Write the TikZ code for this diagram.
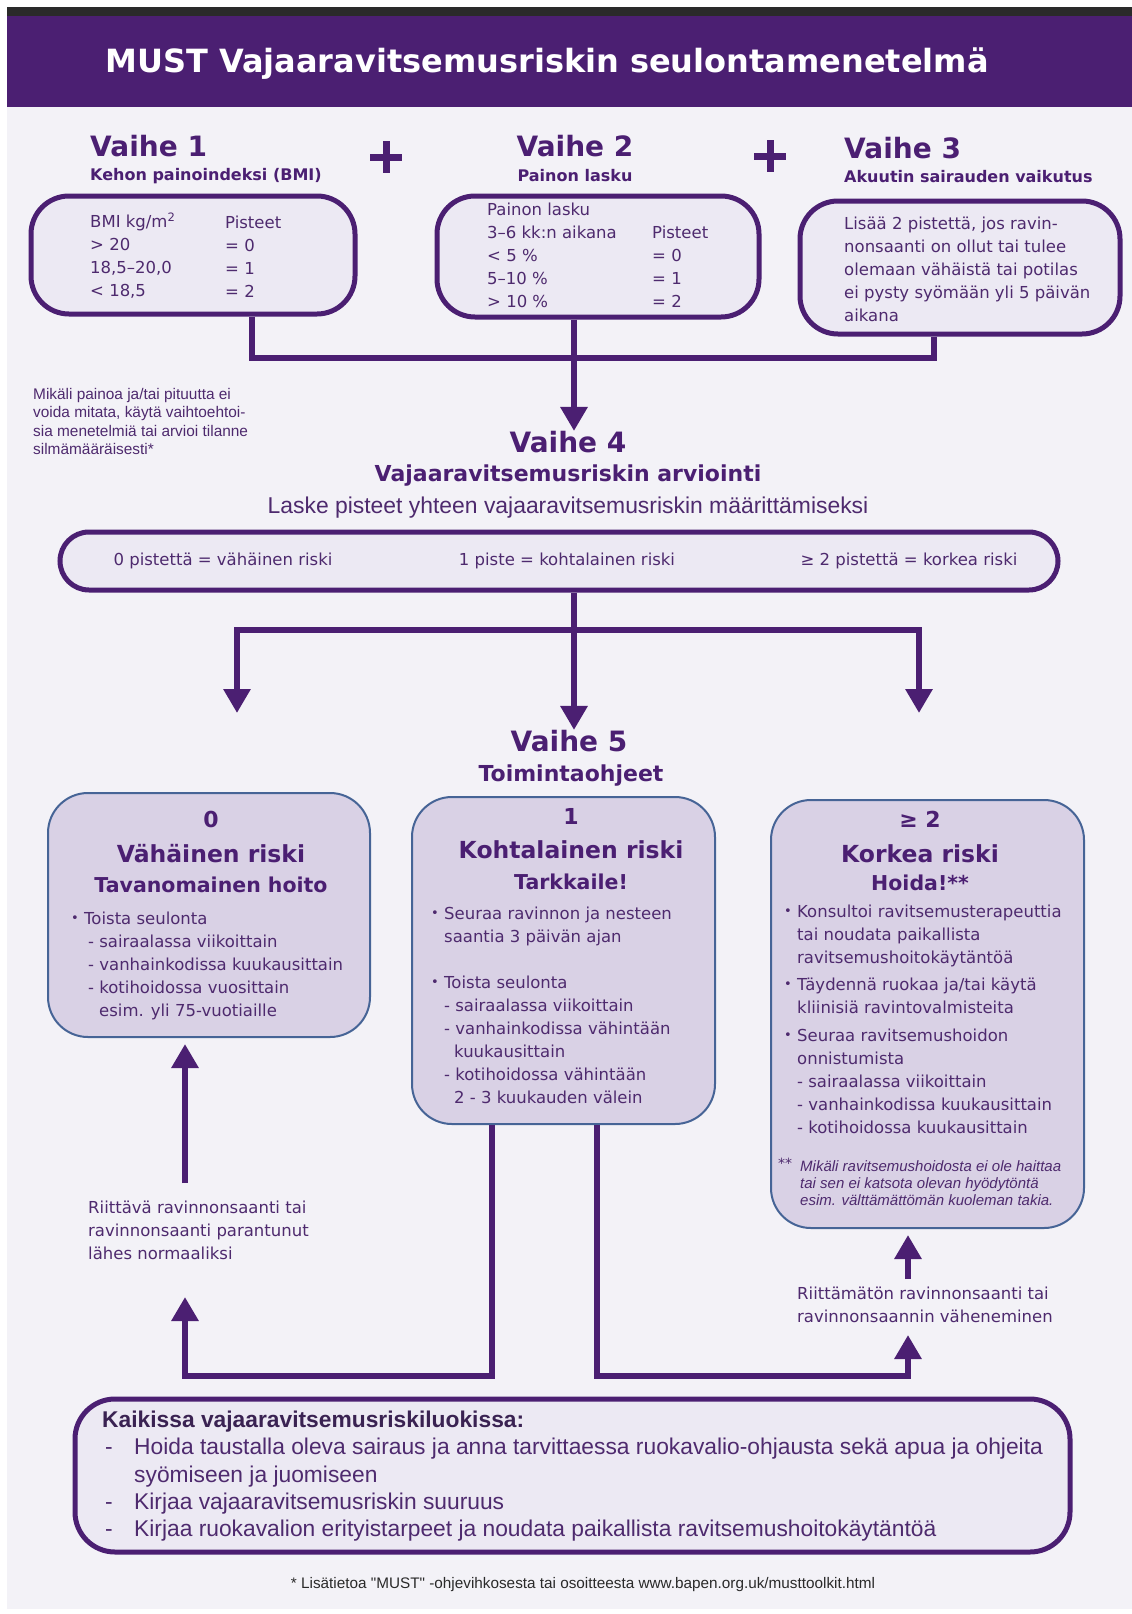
\documentclass[tikz,border=0pt]{standalone}
\usepackage{fontspec}
\setmainfont{DejaVu Sans}
\newfontfamily\arialfont{Liberation Sans}
\usetikzlibrary{arrows.meta, positioning, calc}
\definecolor{mustpurple}{RGB}{75,31,114}
\definecolor{musttext}{RGB}{78,42,110}
\definecolor{mustdark}{RGB}{58,34,82}
\definecolor{mustbg}{RGB}{243,242,247}
\definecolor{mustfill}{RGB}{236,233,243}
\definecolor{riskfill}{RGB}{217,209,229}
\definecolor{riskedge}{RGB}{70,100,150}
\definecolor{bardark}{RGB}{42,42,42}
\newcommand{\fs}[2]{\fontsize{#1}{#2}\selectfont}
\newcommand{\bul}{\makebox[13pt][l]{\raisebox{2pt}{\fs{13}{13}•}}}

\begin{document}
\begin{tikzpicture}[x=1pt, y=-1pt,
    card/.style={draw=mustpurple, line width=5pt, fill=mustfill,
                 rounded corners=#1, inner sep=0pt},
    card/.default=38pt,
    action/.style={draw=riskedge, line width=2pt, fill=riskfill,
                   rounded corners=40pt, inner sep=0pt},
    stage/.style={font=\fs{28}{30}\bfseries, text=mustpurple, inner sep=0pt},
    stagesub/.style={font=\fs{16}{18}\bfseries, text=mustpurple, inner sep=0pt},
    body/.style={font=\fs{16.5}{23}, text=musttext, align=left, inner sep=0pt},
    cue/.style={body},
    note/.style={font=\arialfont\fs{15.4}{18.3}, text=musttext, align=left, inner sep=0pt},
    riskno/.style={font=\fs{22}{24}\bfseries, text=mustpurple, inner sep=0pt},
    riskname/.style={font=\fs{23.5}{26}\bfseries, text=mustpurple, inner sep=0pt},
    riskcare/.style={font=\fs{20.5}{23}\bfseries, text=mustpurple, inner sep=0pt},
    link/.style={draw=mustpurple, line width=6pt},
    flow/.style={link, -{Triangle[width=26pt,length=24pt]}}
  ]
    \useasboundingbox (0,0) rectangle (1132,1614);
    \fill[white] (0,0) rectangle (1132,1614);
    \fill[mustbg] (7,15) rectangle (1132,1609);
    \fill[bardark] (7,7) rectangle (1132,16);
    \fill[mustpurple] (7,16) rectangle (1132,107);
    \node[font=\fs{32}{36}\bfseries, text=white] (title) at (547,64) {MUST Vajaaravitsemusriskin seulontamenetelmä};

    % vaiheet 1-3
    \node[stage, anchor=west] (v1) at (90,146) {Vaihe 1};
    \node[stagesub, anchor=west] (v1s) at (90,176) {Kehon painoindeksi (BMI)};
    \node[stage] (v2) at (575,146) {Vaihe 2};
    \node[stagesub] (v2s) at (575,176) {Painon lasku};
    \node[stage, anchor=west] (v3) at (844,148) {Vaihe 3};
    \node[stagesub, anchor=west] (v3s) at (844,177) {Akuutin sairauden vaikutus};
    \foreach \px/\py in {386/157, 770/156}
      \draw[mustpurple, line width=7pt] (\px-16,\py) -- (\px+16,\py) (\px,\py-16) -- (\px,\py+16);

    \node[card, minimum width=324pt, minimum height=118pt] (bmi) at (193,255) {};
    \node[card, minimum width=322pt, minimum height=121pt] (loss) at (598,256.5) {};
    \node[card, minimum width=320pt, minimum height=133pt] (acute) at (960,267.5) {};

    \node[body, anchor=west] (bmicol) at (90,256) {BMI kg/m\textsuperscript{2}\\> 20\\18,5–20,0\\< 18,5};
    \node[body, anchor=west] (bmipts) at (225,257) {Pisteet\\= 0\\= 1\\= 2};
    \node[body, anchor=west] (losscol) at (487,255) {Painon lasku\\3–6 kk:n aikana\\< 5 \%\\5–10 \%\\> 10 \%};
    \node[body, anchor=west] (losspts) at (652,267) {Pisteet\\= 0\\= 1\\= 2};
    \node[body, anchor=west] (acutetxt) at (844,269) {Lisää 2 pistettä, jos ravin-\\nonsaanti on ollut tai tulee\\olemaan vähäistä tai potilas\\ei pysty syömään yli 5 päivän\\aikana};

    \coordinate (c1) at (252,358);
    \coordinate (c2) at (574,358);
    \coordinate (c3) at (934,358);
    \draw[link] (bmi.south -| c1) -- (c1) -- (c3) -- (acute.south -| c3);

    \node[note, anchor=west] (nomeasure) at (33,421.5) {Mikäli painoa ja/tai pituutta ei\\voida mitata, käytä vaihtoehtoi-\\sia menetelmiä tai arvioi tilanne\\silmämääräisesti*};

    % vaihe 4
    \node[stage] (v4) at (568,442) {Vaihe 4};
    \draw[flow] (loss.south -| c2) -- (c2 |- v4.north);
    \node[font=\fs{22}{24}\bfseries, text=mustpurple] (v4s) at (568,476) {Vajaaravitsemusriskin arviointi};
    \node[font=\arialfont\fs{22.9}{26}, text=musttext] (v4t) at (568,508) {Laske pisteet yhteen vajaaravitsemusriskin määrittämiseksi};

    \node[card=29pt, minimum width=998pt, minimum height=58pt] (score) at (559,561) {};
    \node[body] (s0) at (223,561) {0 pistettä = vähäinen riski};
    \node[body] (s1) at (567,561) {1 piste = kohtalainen riski};
    \node[body] (s2) at (909,561) {≥ 2 pistettä = korkea riski};

    \coordinate (sp) at (574,630);
    \coordinate (tipl) at (237,713);
    \coordinate (tipr) at (919,713);

    % vaihe 5
    \node[stage] (v5) at (569,741) {Vaihe 5};
    \node[font=\fs{22}{24}\bfseries, text=mustpurple] (v5s) at (571,776) {Toimintaohjeet};
    \draw[link] (score.south -| sp) -- (sp);
    \draw[flow] (sp) -- (sp |- v5.north);
    \draw[flow] (sp) -| (tipl);
    \draw[flow] (sp) -| (tipr);

    \node[action, minimum width=322pt, minimum height=244pt] (low) at (209,915) {};
    \node[action, minimum width=303pt, minimum height=327pt] (medium) at (563.5,960.5) {};
    \node[action, minimum width=313pt, minimum height=428pt] (high) at (927.5,1014) {};

    \node[riskno] (lown) at (211,819) {0};
    \node[riskname] (lowr) at (211,854) {Vähäinen riski};
    \node[riskcare] (lowc) at (211,885) {Tavanomainen hoito};
    \node[body, anchor=north west] (lowlist) at (71,912) {\bul Toista seulonta\\\hspace*{17pt}- sairaalassa viikoittain\\\hspace*{17pt}- vanhainkodissa kuukausittain\\\hspace*{17pt}- kotihoidossa vuosittain\\\hspace*{28pt}esim. yli 75-vuotiaille};

    \node[riskno] (medn) at (571,816) {1};
    \node[riskname] (medr) at (571,850) {Kohtalainen riski};
    \node[riskcare] (medc) at (571,882) {Tarkkaile!};
    \node[body, anchor=north west] (medlist) at (431,907) {\bul Seuraa ravinnon ja nesteen\\\hspace*{13pt}saantia 3 päivän ajan\\[23pt]\bul Toista seulonta\\\hspace*{13pt}- sairaalassa viikoittain\\\hspace*{13pt}- vanhainkodissa vähintään\\\hspace*{23pt}kuukausittain\\\hspace*{13pt}- kotihoidossa vähintään\\\hspace*{23pt}2 - 3 kuukauden välein};

    \node[riskno] (highn) at (920,819) {≥ 2};
    \node[riskname] (highr) at (920,854) {Korkea riski};
    \node[riskcare] (highc) at (920,883) {Hoida!**};
    \node[body, anchor=north west] (higha) at (784,905) {\bul Konsultoi ravitsemusterapeuttia\\\hspace*{13pt}tai noudata paikallista\\\hspace*{13pt}ravitsemushoitokäytäntöä};
    \node[body, anchor=north west] (highb) at (784,978) {\bul Täydennä ruokaa ja/tai käytä\\\hspace*{13pt}kliinisiä ravintovalmisteita};
    \node[body, anchor=north west] (highc2) at (784,1029) {\bul Seuraa ravitsemushoidon\\\hspace*{13pt}onnistumista\\\hspace*{13pt}- sairaalassa viikoittain\\\hspace*{13pt}- vanhainkodissa kuukausittain\\\hspace*{13pt}- kotihoidossa kuukausittain};
    \node[font=\fs{14}{14}, text=musttext, anchor=west, inner sep=0pt] (star) at (778,1163) {**};
    \node[anchor=north west, font=\arialfont\itshape\fs{15}{17}, text=musttext, align=left, inner sep=0pt] (highnote) at (800,1160) {Mikäli ravitsemushoidosta ei ole haittaa\\tai sen ei katsota olevan hyödytöntä\\esim. välttämättömän kuoleman takia.};

    % paluunuolet
    \coordinate (okstart) at (185,1183);
    \coordinate (okend) at (185,1297);
    \coordinate (lpm) at (492,1376);
    \coordinate (lpl) at (185,1376);
    \coordinate (rpm) at (597,1376);
    \coordinate (rpr) at (908,1376);
    \coordinate (badend) at (908,1335);
    \coordinate (badstart) at (908,1279);
    \draw[flow, shorten >=6pt] (okstart) -- (low.south -| okstart);
    \draw[flow] (medium.south -| lpm) -- (lpm) -- (lpl) -- (okend);
    \draw[flow] (medium.south -| rpm) -- (rpm) -- (rpr) -- (badend);
    \draw[flow, shorten >=6pt] (badstart) -- (high.south -| badstart);

    \node[cue, anchor=west] (oklabel) at (88,1230) {Riittävä ravinnonsaanti tai\\ravinnonsaanti parantunut\\lähes normaaliksi};
    \node[cue, anchor=west] (badlabel) at (797,1305) {Riittämätön ravinnonsaanti tai\\ravinnonsaannin väheneminen};

    \node[card=40pt, minimum width=995pt, minimum height=153pt] (all) at (572.5,1475.5) {};
    \node[anchor=west, font=\arialfont\bfseries\fs{22.8}{24}, text=mustdark, inner sep=0pt] (allhead) at (102,1422) {Kaikissa vajaaravitsemusriskiluokissa:};
    \node[anchor=north west, font=\arialfont\fs{22.8}{27.3}, text=musttext, align=left, inner sep=0pt] (alllist) at (105,1438) {\makebox[29pt][l]{-}Hoida taustalla oleva sairaus ja anna tarvittaessa ruokavalio-ohjausta sekä apua ja ohjeita\\\hspace*{29pt}syömiseen ja juomiseen\\\makebox[29pt][l]{-}Kirjaa vajaaravitsemusriskin suuruus\\\makebox[29pt][l]{-}Kirjaa ruokavalion erityistarpeet ja noudata paikallista ravitsemushoitokäytäntöä};

    \node[font=\arialfont\fs{15.3}{17}, text=bardark] (foot) at (583,1585) {* Lisätietoa "MUST" -ohjevihkosesta tai osoitteesta www.bapen.org.uk/musttoolkit.html};
\end{tikzpicture}
\end{document}
